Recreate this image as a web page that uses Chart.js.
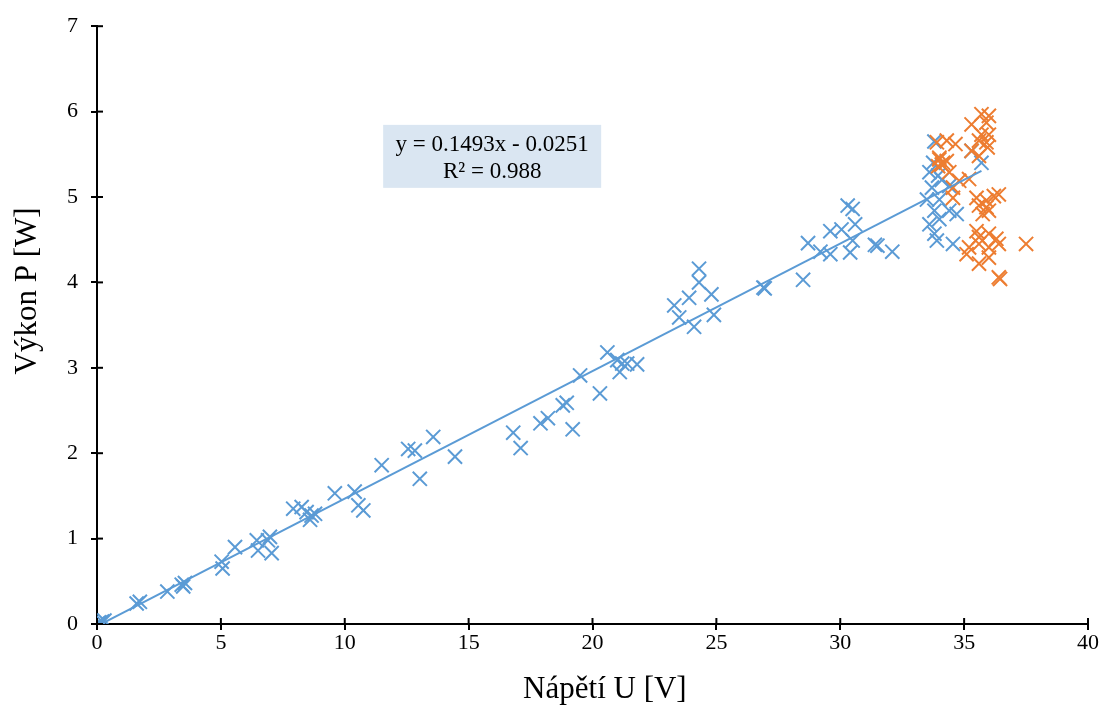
<!DOCTYPE html>
<html>
<head>
<meta charset="utf-8">
<script src="https://cdn.jsdelivr.net/npm/chart.js@4/dist/chart.umd.min.js"></script>
<style>
  html, body { margin: 0; padding: 0; background: #fff; }
  #wrap { width: 1102px; height: 711px; }
</style>
</head>
<body>
<div id="wrap"><canvas id="chart" width="1102" height="711"></canvas></div>
<script>
// measured series: voltage U [V] and power P [W]
const blueU = [0, 0.1, 0.2, 0.3, 0.05, 1.6, 1.73, 2.84, 3.42, 3.55, 3.48, 5.03, 5.07, 5.57,
  6.45, 6.5, 6.98, 7.05, 6.9, 7.92, 8.26, 8.46, 8.66, 8.6, 8.8, 9.6, 10.4, 10.55, 10.75, 11.49,
  12.56, 12.83, 13.57, 13.03, 14.45, 16.8, 17.1, 17.9, 18.2, 18.8, 18.96, 19.2, 19.5, 20.3,
  20.6, 21.0, 21.1, 21.2, 21.4, 21.8, 23.3, 23.5, 23.9, 24.1, 24.3, 24.3, 24.8, 24.9, 26.9,
  26.95, 28.5, 28.7, 29.2, 29.6, 29.6, 30.05, 30.3, 30.5, 30.4, 30.5, 30.6, 31.4, 31.5, 32.1,
  33.8, 33.75, 33.6, 33.95, 33.7, 34.4, 33.5, 34.0, 33.8, 34.4, 34.7, 33.6, 34.0, 33.8, 33.9,
  34.55, 35.3, 35.7, 34.1];
const blueP = [0, 0.02, 0.03, 0.04, 0.01, 0.24, 0.26, 0.38, 0.46, 0.48, 0.44, 0.73, 0.65, 0.90,
  0.98, 0.86, 1.02, 0.83, 0.98, 1.35, 1.37, 1.31, 1.27, 1.22, 1.29, 1.53, 1.55, 1.39, 1.33, 1.86,
  2.05, 2.03, 2.19, 1.70, 1.96, 2.24, 2.06, 2.35, 2.41, 2.56, 2.59, 2.28, 2.91, 2.70,
  3.18, 3.09, 2.95, 3.05, 3.05, 3.04, 3.73, 3.59, 3.82, 3.48, 4.16, 4.00, 3.86, 3.62, 3.94,
  3.93, 4.03, 4.46, 4.36, 4.33, 4.60, 4.62, 4.90, 4.86, 4.35, 4.49, 4.68, 4.44, 4.43, 4.36,
  5.65, 5.40, 5.29, 5.25, 5.11, 5.13, 4.97, 4.97, 4.84, 4.84, 4.80, 4.68, 4.74, 4.57, 4.49,
  4.45, 5.54, 5.40, 5.20];
const orangeU = [35.7, 36.0, 35.3, 35.9, 35.7, 36.0, 35.6, 35.9, 35.95, 35.3, 35.6, 33.9, 34.3,
  34.65, 34.0, 34.15, 34.3, 33.95, 34.4, 34.8, 35.2, 34.55, 34.55, 35.5, 35.9, 36.2, 36.4, 35.6,
  35.9, 36.0, 35.75, 35.5, 35.6, 36.0, 36.3, 36.4, 35.2, 35.6, 36.0, 35.1, 35.6, 36.0, 36.4,
  36.45, 37.5, 34.1, 34.0];
const orangeP = [5.97, 5.95, 5.85, 5.87, 5.73, 5.73, 5.66, 5.64, 5.58, 5.54, 5.48, 5.64, 5.66,
  5.62, 5.46, 5.40, 5.42, 5.36, 5.29, 5.19, 5.21, 5.11, 4.99, 4.99, 4.96, 5.01, 5.03, 4.90,
  4.88, 4.84, 4.80, 4.60, 4.53, 4.57, 4.51, 4.45, 4.41, 4.45, 4.41, 4.33, 4.22, 4.29, 4.06,
  4.04, 4.45, 5.38, 5.44];

// linear trendline of the blue series (Excel)
const slope = 0.1493;
const intercept = -0.0251;
const r2 = 0.988;

const xTicks = [0, 5, 10, 15, 20, 25, 30, 35, 40];
const yTicks = [0, 1, 2, 3, 4, 5, 6, 7];
const xTitle = 'Nápětí U [V]';
const yTitle = 'Výkon P [W]';

const BLUE = '#5b9bd5';
const ORANGE = '#ed7d31';
const FONT = '"Liberation Serif", "Times New Roman", serif';

const toPoints = (xs, ys) => xs.map((x, i) => ({ x: x, y: ys[i] }));
const trendEnd = Math.max(...blueU);
const trend = [0, trendEnd].map(x => ({ x: x, y: slope * x + intercept }));

// ticks in the Excel style cross the axis line, draw the inner half
const innerTicks = {
  id: 'innerTicks',
  afterDraw(chart) {
    const { ctx, chartArea, scales } = chart;
    ctx.save();
    ctx.strokeStyle = '#000';
    ctx.lineWidth = 2;
    xTicks.forEach(v => {
      const px = scales.x.getPixelForValue(v);
      ctx.beginPath();
      ctx.moveTo(px, chartArea.bottom);
      ctx.lineTo(px, chartArea.bottom - 6);
      ctx.stroke();
    });
    yTicks.forEach(v => {
      const py = scales.y.getPixelForValue(v);
      ctx.beginPath();
      ctx.moveTo(chartArea.left, py);
      ctx.lineTo(chartArea.left + 6, py);
      ctx.stroke();
    });
    ctx.restore();
  }
};

// equation label box + axis titles (Excel puts them a bit off-centre)
const labels = {
  id: 'labels',
  afterDraw(chart) {
    const { ctx, scales } = chart;
    const cx = scales.x.getPixelForValue(15.95);
    const cy = scales.y.getPixelForValue(5.47);
    ctx.save();
    ctx.fillStyle = '#dae6f2';
    ctx.fillRect(cx - 109, cy - 32, 218, 63);
    ctx.fillStyle = '#000';
    ctx.font = '23px ' + FONT;
    ctx.textAlign = 'center';
    ctx.textBaseline = 'middle';
    ctx.fillText('y = ' + slope + 'x - ' + Math.abs(intercept), cx, cy - 12);
    ctx.fillText('R² = ' + r2, cx, cy + 15);

    ctx.font = '31px ' + FONT;
    ctx.fillText(xTitle, scales.x.getPixelForValue(20.5), 690);
    ctx.translate(28, scales.y.getPixelForValue(3.9));
    ctx.rotate(-Math.PI / 2);
    ctx.fillText(yTitle, 0, 0);
    ctx.restore();
  }
};

new Chart(document.getElementById('chart'), {
  type: 'scatter',
  data: {
    datasets: [
      {
        label: 'P',
        data: toPoints(blueU, blueP),
        pointStyle: 'crossRot',
        radius: 10,
        borderWidth: 2,
        borderColor: BLUE,
        backgroundColor: BLUE,
        order: 2
      },
      {
        label: 'P2',
        data: toPoints(orangeU, orangeP),
        pointStyle: 'crossRot',
        radius: 10,
        borderWidth: 2,
        borderColor: ORANGE,
        backgroundColor: ORANGE,
        order: 1
      },
      {
        type: 'line',
        label: 'trend',
        data: trend,
        borderColor: BLUE,
        borderWidth: 2,
        pointRadius: 0,
        fill: false,
        order: 0
      }
    ]
  },
  options: {
    responsive: false,
    animation: false,
    layout: { padding: { top: 25, right: 14, left: 0, bottom: 0 } },
    plugins: {
      legend: { display: false },
      tooltip: { enabled: false }
    },
    scales: {
      x: {
        type: 'linear',
        min: 0,
        max: 40,
        afterFit: s => { s.height = 87; },
        afterBuildTicks: s => { s.ticks = xTicks.map(v => ({ value: v })); },
        border: { color: '#000', width: 2 },
        grid: { drawOnChartArea: false, color: '#000', lineWidth: 2, tickLength: 6 },
        ticks: { color: '#000', font: { family: FONT, size: 22 }, padding: 0, maxRotation: 0 }
      },
      y: {
        type: 'linear',
        min: 0,
        max: 7,
        afterFit: s => { s.width = 97; },
        afterBuildTicks: s => { s.ticks = yTicks.map(v => ({ value: v })); },
        border: { color: '#000', width: 2 },
        grid: { drawOnChartArea: false, color: '#000', lineWidth: 2, tickLength: 6 },
        ticks: { color: '#000', font: { family: FONT, size: 22 }, padding: 13 }
      }
    }
  },
  plugins: [innerTicks, labels]
});
</script>
</body>
</html>
